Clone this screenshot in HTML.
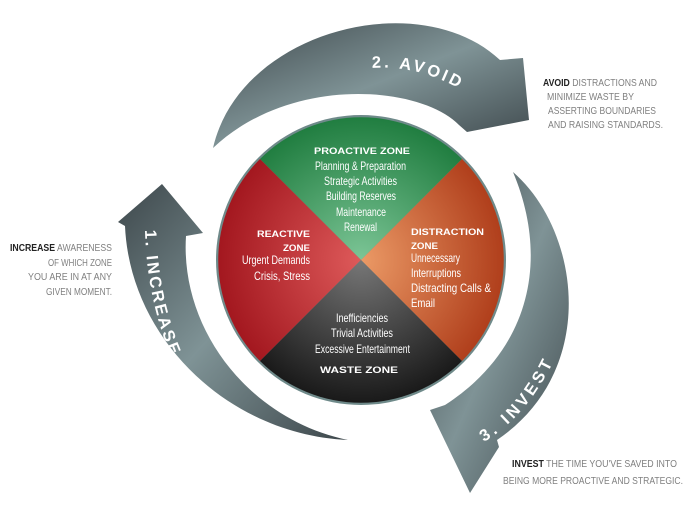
<!DOCTYPE html>
<html><head><meta charset="utf-8"><style>
html,body{margin:0;padding:0;background:#fff;width:691px;height:530px;overflow:hidden}
svg{display:block}
.n{font-family:"Liberation Sans Narrow","Liberation Sans",sans-serif}
</style></head><body>
<svg width="691" height="530" viewBox="0 0 691 530" xmlns="http://www.w3.org/2000/svg">
<defs>
<linearGradient id="ga" x1="0" y1="0" x2="1" y2="1">
<stop offset="0" stop-color="#3d474b"/><stop offset="0.5" stop-color="#7f9396"/><stop offset="1" stop-color="#3d474b"/></linearGradient>
<radialGradient id="gg" cx="361" cy="260" r="150" gradientUnits="userSpaceOnUse"><stop offset="0" stop-color="#7cc596"/><stop offset="1" stop-color="#1c7a3c"/></radialGradient>
<radialGradient id="gr" cx="361" cy="260" r="150" gradientUnits="userSpaceOnUse"><stop offset="0" stop-color="#de5a5a"/><stop offset="1" stop-color="#a0141c"/></radialGradient>
<radialGradient id="go" cx="361" cy="260" r="150" gradientUnits="userSpaceOnUse"><stop offset="0" stop-color="#eb9a66"/><stop offset="1" stop-color="#ad3a18"/></radialGradient>
<radialGradient id="gk" cx="361" cy="260" r="150" gradientUnits="userSpaceOnUse"><stop offset="0" stop-color="#777"/><stop offset="1" stop-color="#151515"/></radialGradient>
<path id="pA" d="M372,68 Q425,64 478,100"/>
<path id="pI" d="M145,230 Q147,312 182,380"/>
<path id="pV" d="M484,442 Q534,412 563,340"/>
</defs>
<path d="M213,148 C240,30 420,-15 500,60 L523,58 L529,120 L467,132 L459,125 C420,85 290,75 213,148 Z" fill="url(#ga)"/>
<path d="M348,440 C230,435 130,340 125,226 L118,222 L162,184 L203,233 L186,236 C180,330 250,420 348,440 Z" fill="url(#ga)"/>
<path d="M513,172 C580,230 600,370 497,440 L499,447 L470,493 L430,410 L445,405 C530,350 550,260 513,172 Z" fill="url(#ga)"/>
<g class="n" fill="#fff" font-weight="bold" font-size="16.5">
<text letter-spacing="3"><textPath href="#pA">2. AVOID</textPath></text>
<text letter-spacing="2.5"><textPath href="#pI">1. INCREASE</textPath></text>
<text letter-spacing="3.5"><textPath href="#pV">3. INVEST</textPath></text>
</g>
<circle cx="361" cy="260" r="145" fill="#6f8a8a"/>
<path d="M361,260 L260,159 A143,143 0 0 1 462,159 Z" fill="url(#gg)"/>
<path d="M361,260 L260,361 A143,143 0 0 1 260,159 Z" fill="url(#gr)"/>
<path d="M361,260 L462,159 A143,143 0 0 1 462,361 Z" fill="url(#go)"/>
<path d="M361,260 L462,361 A143,143 0 0 1 260,361 Z" fill="url(#gk)"/>
<g class="n" fill="#fff" font-size="12">
<text x="314" y="154" font-weight="bold" font-size="9.5" textLength="96" lengthAdjust="spacingAndGlyphs">PROACTIVE ZONE</text>
<text x="315" y="170" textLength="91" lengthAdjust="spacingAndGlyphs">Planning &amp; Preparation</text>
<text x="324" y="185" textLength="73" lengthAdjust="spacingAndGlyphs">Strategic Activities</text>
<text x="326" y="200" textLength="70" lengthAdjust="spacingAndGlyphs">Building Reserves</text>
<text x="336" y="216" textLength="50" lengthAdjust="spacingAndGlyphs">Maintenance</text>
<text x="344" y="231" textLength="33" lengthAdjust="spacingAndGlyphs">Renewal</text>
<text x="257" y="237" font-weight="bold" font-size="9.5" textLength="53" lengthAdjust="spacingAndGlyphs">REACTIVE</text>
<text x="283" y="251" font-weight="bold" font-size="9.5" textLength="27" lengthAdjust="spacingAndGlyphs">ZONE</text>
<text x="242" y="264" textLength="68" lengthAdjust="spacingAndGlyphs">Urgent Demands</text>
<text x="254" y="280" textLength="56" lengthAdjust="spacingAndGlyphs">Crisis, Stress</text>
<text x="411" y="235" font-weight="bold" font-size="9.5" textLength="73" lengthAdjust="spacingAndGlyphs">DISTRACTION</text>
<text x="411" y="249" font-weight="bold" font-size="9.5" textLength="27" lengthAdjust="spacingAndGlyphs">ZONE</text>
<text x="411" y="262" textLength="49" lengthAdjust="spacingAndGlyphs">Unnecessary</text>
<text x="411" y="277" textLength="50" lengthAdjust="spacingAndGlyphs">Interruptions</text>
<text x="411" y="292" textLength="80" lengthAdjust="spacingAndGlyphs">Distracting Calls &amp;</text>
<text x="411" y="307" textLength="24" lengthAdjust="spacingAndGlyphs">Email</text>
<text x="336" y="322" textLength="52" lengthAdjust="spacingAndGlyphs">Inefficiencies</text>
<text x="331" y="337" textLength="62" lengthAdjust="spacingAndGlyphs">Trivial Activities</text>
<text x="315" y="353" textLength="95" lengthAdjust="spacingAndGlyphs">Excessive Entertainment</text>
<text x="320" y="373" font-weight="bold" font-size="9.5" textLength="78" lengthAdjust="spacingAndGlyphs">WASTE ZONE</text>
</g>
<g class="n" fill="#808080" font-size="10">
<text x="543" y="86" textLength="114" lengthAdjust="spacingAndGlyphs"><tspan fill="#222" font-weight="bold">AVOID</tspan> DISTRACTIONS AND</text>
<text x="547" y="100" textLength="87" lengthAdjust="spacingAndGlyphs">MINIMIZE WASTE BY</text>
<text x="548" y="114" textLength="108" lengthAdjust="spacingAndGlyphs">ASSERTING BOUNDARIES</text>
<text x="548" y="128" textLength="115" lengthAdjust="spacingAndGlyphs">AND RAISING STANDARDS.</text>
<text x="10" y="251" textLength="102" lengthAdjust="spacingAndGlyphs"><tspan fill="#222" font-weight="bold">INCREASE</tspan> AWARENESS</text>
<text x="48" y="266" textLength="64" lengthAdjust="spacingAndGlyphs">OF WHICH ZONE</text>
<text x="28" y="280" textLength="84" lengthAdjust="spacingAndGlyphs">YOU ARE IN AT ANY</text>
<text x="46" y="295" textLength="66" lengthAdjust="spacingAndGlyphs">GIVEN MOMENT.</text>
<text x="512" y="467" textLength="165" lengthAdjust="spacingAndGlyphs"><tspan fill="#222" font-weight="bold">INVEST</tspan> THE TIME YOU'VE SAVED INTO</text>
<text x="503" y="484" textLength="180" lengthAdjust="spacingAndGlyphs">BEING MORE PROACTIVE AND STRATEGIC.</text>
</g>
</svg>
</body></html>
